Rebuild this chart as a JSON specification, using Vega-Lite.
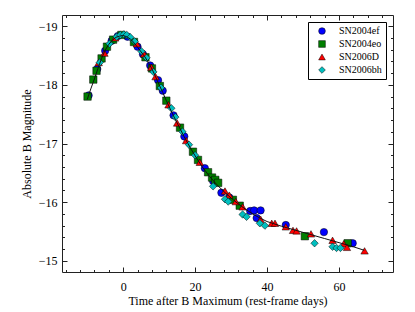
{
  "$schema": "https://vega.github.io/schema/vega-lite/v6.json",
  "width": 331,
  "height": 257,
  "autosize": {"type": "none"},
  "padding": {"left": 62, "top": 15, "right": 22, "bottom": 40},
  "background": "white",
  "view": {"stroke": "#222", "strokeWidth": 1},
  "config": {
    "axis": {
      "grid": false,
      "domain": false,
      "tickColor": "#222",
      "labelFont": "Liberation Serif",
      "labelFontSize": 12,
      "labelColor": "black",
      "titleFont": "Liberation Serif",
      "titleFontSize": 12,
      "titleFontWeight": "normal",
      "titleColor": "black"
    },
    "legend": {
      "labelFont": "Liberation Serif",
      "labelFontSize": 10,
      "labelColor": "black"
    }
  },
  "datasets": {
    "curve": [
      {"t": -10, "m": -17.75}, {"t": -9, "m": -17.93}, {"t": -8, "m": -18.10}, {"t": -7, "m": -18.28},
      {"t": -6, "m": -18.45}, {"t": -5, "m": -18.59}, {"t": -4, "m": -18.69}, {"t": -3, "m": -18.76},
      {"t": -2, "m": -18.81}, {"t": -1, "m": -18.83}, {"t": 0, "m": -18.84}, {"t": 1, "m": -18.82},
      {"t": 2, "m": -18.78}, {"t": 3, "m": -18.72}, {"t": 4, "m": -18.64}, {"t": 5, "m": -18.56},
      {"t": 6, "m": -18.48}, {"t": 7, "m": -18.38}, {"t": 8, "m": -18.27}, {"t": 9, "m": -18.14},
      {"t": 10, "m": -18.00}, {"t": 11, "m": -17.87}, {"t": 12, "m": -17.73}, {"t": 13, "m": -17.60},
      {"t": 14, "m": -17.47}, {"t": 15, "m": -17.35}, {"t": 16, "m": -17.23}, {"t": 17, "m": -17.11},
      {"t": 18, "m": -17.00}, {"t": 19, "m": -16.89}, {"t": 20, "m": -16.79}, {"t": 22, "m": -16.60},
      {"t": 24, "m": -16.44}, {"t": 26, "m": -16.30}, {"t": 28, "m": -16.18}, {"t": 30, "m": -16.07},
      {"t": 32, "m": -15.97}, {"t": 34, "m": -15.88}, {"t": 36, "m": -15.80}, {"t": 38, "m": -15.73},
      {"t": 40, "m": -15.67}, {"t": 44, "m": -15.59}, {"t": 48, "m": -15.52}, {"t": 52, "m": -15.45},
      {"t": 56, "m": -15.38}, {"t": 60, "m": -15.31}, {"t": 64, "m": -15.24}, {"t": 67, "m": -15.18}
    ],
    "obs": [
      {"sn": "SN2004ef", "t": -9.6, "m": -17.82}, {"sn": "SN2004ef", "t": -7.2, "m": -18.27},
      {"sn": "SN2004ef", "t": -5.0, "m": -18.58}, {"sn": "SN2004ef", "t": -3.2, "m": -18.75},
      {"sn": "SN2004ef", "t": -1.5, "m": -18.83}, {"sn": "SN2004ef", "t": 1.2, "m": -18.82},
      {"sn": "SN2004ef", "t": 4.0, "m": -18.65}, {"sn": "SN2004ef", "t": 5.5, "m": -18.52},
      {"sn": "SN2004ef", "t": 7.5, "m": -18.33}, {"sn": "SN2004ef", "t": 9.7, "m": -18.08},
      {"sn": "SN2004ef", "t": 11.0, "m": -17.90}, {"sn": "SN2004ef", "t": 14.0, "m": -17.48},
      {"sn": "SN2004ef", "t": 17.0, "m": -17.12}, {"sn": "SN2004ef", "t": 22.7, "m": -16.58},
      {"sn": "SN2004ef", "t": 25.0, "m": -16.36}, {"sn": "SN2004ef", "t": 27.3, "m": -16.16},
      {"sn": "SN2004ef", "t": 29.5, "m": -16.08}, {"sn": "SN2004ef", "t": 35.3, "m": -15.85},
      {"sn": "SN2004ef", "t": 36.4, "m": -15.86}, {"sn": "SN2004ef", "t": 38.2, "m": -15.86},
      {"sn": "SN2004ef", "t": 37.1, "m": -15.73}, {"sn": "SN2004ef", "t": 45.2, "m": -15.61},
      {"sn": "SN2004ef", "t": 55.8, "m": -15.49}, {"sn": "SN2004ef", "t": 63.8, "m": -15.30},
      {"sn": "SN2004eo", "t": -9.9, "m": -17.80}, {"sn": "SN2004eo", "t": -8.3, "m": -18.09},
      {"sn": "SN2004eo", "t": -7.4, "m": -18.24}, {"sn": "SN2004eo", "t": -6.0, "m": -18.45},
      {"sn": "SN2004eo", "t": -4.5, "m": -18.65}, {"sn": "SN2004eo", "t": -2.8, "m": -18.77},
      {"sn": "SN2004eo", "t": -0.5, "m": -18.85}, {"sn": "SN2004eo", "t": 3.0, "m": -18.73},
      {"sn": "SN2004eo", "t": 6.2, "m": -18.47}, {"sn": "SN2004eo", "t": 8.0, "m": -18.28},
      {"sn": "SN2004eo", "t": 10.2, "m": -17.98}, {"sn": "SN2004eo", "t": 12.0, "m": -17.73},
      {"sn": "SN2004eo", "t": 15.8, "m": -17.27}, {"sn": "SN2004eo", "t": 19.4, "m": -16.86},
      {"sn": "SN2004eo", "t": 20.8, "m": -16.72}, {"sn": "SN2004eo", "t": 23.6, "m": -16.51},
      {"sn": "SN2004eo", "t": 24.7, "m": -16.42}, {"sn": "SN2004eo", "t": 25.6, "m": -16.38},
      {"sn": "SN2004eo", "t": 26.4, "m": -16.33}, {"sn": "SN2004eo", "t": 30.5, "m": -16.04},
      {"sn": "SN2004eo", "t": 32.4, "m": -15.94}, {"sn": "SN2004eo", "t": 50.5, "m": -15.42},
      {"sn": "SN2004eo", "t": 62.4, "m": -15.30},
      {"sn": "SN2006D", "t": -6.8, "m": -18.38}, {"sn": "SN2006D", "t": -5.2, "m": -18.54},
      {"sn": "SN2006D", "t": -2.2, "m": -18.80}, {"sn": "SN2006D", "t": 3.8, "m": -18.70},
      {"sn": "SN2006D", "t": 5.8, "m": -18.53}, {"sn": "SN2006D", "t": 7.8, "m": -18.30},
      {"sn": "SN2006D", "t": 9.0, "m": -18.14}, {"sn": "SN2006D", "t": 12.6, "m": -17.66},
      {"sn": "SN2006D", "t": 15.0, "m": -17.35}, {"sn": "SN2006D", "t": 17.5, "m": -17.05},
      {"sn": "SN2006D", "t": 21.3, "m": -16.68}, {"sn": "SN2006D", "t": 28.3, "m": -16.19},
      {"sn": "SN2006D", "t": 29.5, "m": -16.12}, {"sn": "SN2006D", "t": 31.3, "m": -16.01},
      {"sn": "SN2006D", "t": 33.2, "m": -15.92}, {"sn": "SN2006D", "t": 38.2, "m": -15.71},
      {"sn": "SN2006D", "t": 41.3, "m": -15.64}, {"sn": "SN2006D", "t": 42.2, "m": -15.64},
      {"sn": "SN2006D", "t": 45.2, "m": -15.58}, {"sn": "SN2006D", "t": 47.2, "m": -15.52},
      {"sn": "SN2006D", "t": 48.2, "m": -15.51}, {"sn": "SN2006D", "t": 52.2, "m": -15.46},
      {"sn": "SN2006D", "t": 58.2, "m": -15.35}, {"sn": "SN2006D", "t": 61.3, "m": -15.29},
      {"sn": "SN2006D", "t": 62.2, "m": -15.23}, {"sn": "SN2006D", "t": 67.1, "m": -15.17},
      {"sn": "SN2006bh", "t": -6.5, "m": -18.38}, {"sn": "SN2006bh", "t": -3.8, "m": -18.70},
      {"sn": "SN2006bh", "t": -1.8, "m": -18.82}, {"sn": "SN2006bh", "t": -0.8, "m": -18.85},
      {"sn": "SN2006bh", "t": 0.2, "m": -18.86}, {"sn": "SN2006bh", "t": 1.0, "m": -18.85},
      {"sn": "SN2006bh", "t": 2.0, "m": -18.81}, {"sn": "SN2006bh", "t": 3.2, "m": -18.74},
      {"sn": "SN2006bh", "t": 5.1, "m": -18.57}, {"sn": "SN2006bh", "t": 6.5, "m": -18.46},
      {"sn": "SN2006bh", "t": 8.4, "m": -18.22}, {"sn": "SN2006bh", "t": 10.5, "m": -17.95},
      {"sn": "SN2006bh", "t": 13.4, "m": -17.60}, {"sn": "SN2006bh", "t": 14.5, "m": -17.45},
      {"sn": "SN2006bh", "t": 16.5, "m": -17.20}, {"sn": "SN2006bh", "t": 18.3, "m": -16.98},
      {"sn": "SN2006bh", "t": 20.0, "m": -16.80}, {"sn": "SN2006bh", "t": 25.0, "m": -16.27},
      {"sn": "SN2006bh", "t": 28.3, "m": -16.05}, {"sn": "SN2006bh", "t": 29.2, "m": -16.01},
      {"sn": "SN2006bh", "t": 33.2, "m": -15.79}, {"sn": "SN2006bh", "t": 34.3, "m": -15.75},
      {"sn": "SN2006bh", "t": 38.0, "m": -15.64}, {"sn": "SN2006bh", "t": 39.4, "m": -15.60},
      {"sn": "SN2006bh", "t": 53.2, "m": -15.30}, {"sn": "SN2006bh", "t": 58.2, "m": -15.24},
      {"sn": "SN2006bh", "t": 59.3, "m": -15.22}, {"sn": "SN2006bh", "t": 60.4, "m": -15.22}
    ]
  },
  "layer": [
    {
      "data": {"name": "obs"},
      "mark": {"type": "point", "filled": true, "opacity": 1, "stroke": "black", "strokeWidth": 0.5, "size": 55},
      "encoding": {
        "x": {"field": "t", "type": "quantitative",
              "scale": {"domain": [-17, 75], "nice": false, "zero": false},
              "axis": {"orient": "top", "values": [0, 20, 40, 60], "labels": false, "title": null, "tickSize": -5}},
        "y": {"field": "m", "type": "quantitative",
              "scale": {"domain": [-19.19, -14.81], "reverse": true, "nice": false, "zero": false},
              "axis": {"orient": "right", "values": [-19, -18, -17, -16, -15], "labels": false, "title": null, "tickSize": -5}},
        "color": {"field": "sn", "type": "nominal",
                  "scale": {"domain": ["SN2004ef", "SN2004eo", "SN2006D", "SN2006bh"], "range": ["#0000ff", "#007f00", "#ff0000", "#00bfbf"]},
                  "legend": {"title": null, "orient": "top-right", "offset": 7, "strokeColor": "black", "fillColor": "white",
                             "padding": 4, "symbolSize": 45, "symbolOffset": 5, "labelOffset": 12, "rowPadding": 3,
                             "symbolStrokeColor": "black", "symbolStrokeWidth": 0.5, "cornerRadius": 0}},
        "shape": {"field": "sn", "type": "nominal",
                  "scale": {"domain": ["SN2004ef", "SN2004eo", "SN2006D", "SN2006bh"], "range": ["circle", "square", "triangle-up", "diamond"]},
                  "legend": {"title": null, "orient": "top-right", "offset": 7}}
      }
    },
    {
      "data": {"name": "curve"},
      "mark": {"type": "line", "color": "#111", "strokeWidth": 1},
      "encoding": {
        "x": {"field": "t", "type": "quantitative",
              "axis": {"orient": "bottom", "values": [0, 20, 40, 60], "title": "Time after B Maximum (rest-frame days)", "tickSize": -5, "labelPadding": 14, "titlePadding": 3}},
        "y": {"field": "m", "type": "quantitative",
              "axis": {"orient": "left", "values": [-19, -18, -17, -16, -15], "format": "d", "title": "Absolute B Magnitude", "tickSize": -5, "labelPadding": 10, "titlePadding": 5}}
      }
    },
    {
      "data": {"name": "curve"},
      "mark": {"type": "point", "opacity": 0},
      "encoding": {
        "x": {"field": "t", "type": "quantitative",
              "axis": {"orient": "bottom", "values": [-16, -12, -8, -4, 4, 8, 12, 16, 24, 28, 32, 36, 44, 48, 52, 56, 64, 68, 72], "labels": false, "title": null, "tickSize": -2.5}},
        "y": {"field": "m", "type": "quantitative",
              "axis": {"orient": "left", "values": [-18.8, -18.6, -18.4, -18.2, -17.8, -17.6, -17.4, -17.2, -16.8, -16.6, -16.4, -16.2, -15.8, -15.6, -15.4, -15.2], "labels": false, "title": null, "tickSize": -2.5}}
      }
    },
    {
      "data": {"name": "curve"},
      "mark": {"type": "point", "opacity": 0},
      "encoding": {
        "x": {"field": "t", "type": "quantitative",
              "axis": {"orient": "top", "values": [-16, -12, -8, -4, 4, 8, 12, 16, 24, 28, 32, 36, 44, 48, 52, 56, 64, 68, 72], "labels": false, "title": null, "tickSize": -2.5}},
        "y": {"field": "m", "type": "quantitative",
              "axis": {"orient": "right", "values": [-18.8, -18.6, -18.4, -18.2, -17.8, -17.6, -17.4, -17.2, -16.8, -16.6, -16.4, -16.2, -15.8, -15.6, -15.4, -15.2], "labels": false, "title": null, "tickSize": -2.5}}
      }
    }
  ],
  "resolve": {"axis": {"x": "independent", "y": "independent"}}
}
